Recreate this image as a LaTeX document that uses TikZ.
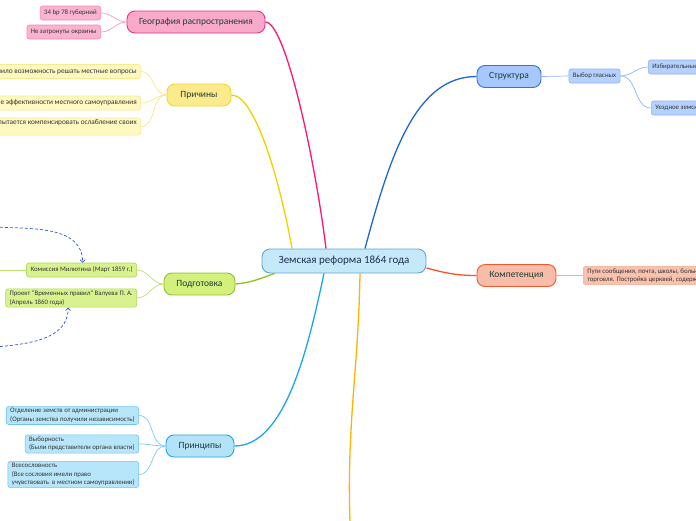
\documentclass[tikz,border=0pt]{standalone}
\usepackage{fontspec}
\setmainfont{Carlito}
\usepackage{tikz}
\usetikzlibrary{positioning}
\usetikzlibrary{arrows.meta}
\definecolor{rootfill}{HTML}{C6E9FA}
\definecolor{rootborder}{HTML}{5AA5D8}
\definecolor{roottext}{HTML}{1B2E4F}
\definecolor{topictext}{HTML}{1E3B36}
\definecolor{leaftext}{HTML}{333333}
\definecolor{structfill}{HTML}{A6C8FF}
\definecolor{structborder}{HTML}{2F74D8}
\definecolor{structline}{HTML}{1F66D1}
\definecolor{structtwig}{HTML}{8FB4F5}
\definecolor{structleaf}{HTML}{B5D1FF}
\definecolor{structleafborder}{HTML}{8DB1F0}
\definecolor{compfill}{HTML}{F9BCA8}
\definecolor{compborder}{HTML}{EE5A2E}
\definecolor{compline}{HTML}{F2552A}
\definecolor{comptwig}{HTML}{F8A88C}
\definecolor{compleaf}{HTML}{F9C2AE}
\definecolor{compleafborder}{HTML}{F5A98E}
\definecolor{geofill}{HTML}{F9AACB}
\definecolor{geoborder}{HTML}{EC2F7E}
\definecolor{geoline}{HTML}{FF1575}
\definecolor{geotwig}{HTML}{F79AC0}
\definecolor{geoleaf}{HTML}{F9B2CF}
\definecolor{geoleafborder}{HTML}{F28DB8}
\definecolor{causefill}{HTML}{FCEB8C}
\definecolor{causeborder}{HTML}{F2D42A}
\definecolor{causeline}{HTML}{F2D000}
\definecolor{causetwig}{HTML}{F6E78C}
\definecolor{causeleaf}{HTML}{FFF8C0}
\definecolor{causeleafborder}{HTML}{F7EA8F}
\definecolor{prepfill}{HTML}{D3F07D}
\definecolor{prepborder}{HTML}{8DC22A}
\definecolor{prepline}{HTML}{8CC31B}
\definecolor{preptwig}{HTML}{BEE06C}
\definecolor{prepleaf}{HTML}{D8F28F}
\definecolor{prepleafborder}{HTML}{B0D755}
\definecolor{princfill}{HTML}{B4E2F8}
\definecolor{princborder}{HTML}{1EA7E2}
\definecolor{princline}{HTML}{1AA6E8}
\definecolor{princtwig}{HTML}{7CCBF0}
\definecolor{princleaf}{HTML}{B7E5FA}
\definecolor{princleafborder}{HTML}{6FC5EE}
\definecolor{lowerline}{HTML}{FFB300}
\definecolor{refblue}{HTML}{3056E0}
\tikzset{my_map/.style={x=1pt,y=1pt}}
\tikzset{my_root/.style={draw=rootborder, fill=rootfill, line width=0.9pt, rounded corners=8pt, minimum width=164pt, minimum height=24pt, font=\fontsize{11}{13}\selectfont, text=roottext}}
\tikzset{my_topic/.style={line width=0.9pt, rounded corners=8pt, minimum height=22pt, font=\fontsize{9.5}{11}\selectfont, text=topictext}}
\tikzset{my_leaf/.style={line width=0.6pt, rounded corners=2.5pt, minimum height=14pt, inner xsep=4pt, inner ysep=2pt, align=left, font=\fontsize{6.8}{8.4}\selectfont, text=leaftext}}
\tikzset{my_link/.style={line width=1.3pt}}
\tikzset{my_twig/.style={line width=0.7pt}}
\tikzset{my_ref/.style={line width=0.7pt, refblue, dash pattern=on 3pt off 2pt, -{Straight Barb[length=2.5pt,width=5pt]}}}

\begin{document}
\begin{tikzpicture}[my_map]
    \useasboundingbox (0,0) rectangle (696,-520);
    % centre and topics
    \node[my_root] (root) at (344,-261) {Земская реформа 1864 года};
    \node[my_topic, fill=geofill, draw=geoborder, minimum width=138pt] (geo) at (196,-22) {География распространения};
    \node[my_topic, fill=causefill, draw=causeborder, minimum width=64pt] (cause) at (199,-95) {Причины};
    \node[my_topic, fill=prepfill, draw=prepborder, minimum width=71pt] (prep) at (199.5,-284) {Подготовка};
    \node[my_topic, fill=princfill, draw=princborder, minimum width=68pt] (princ) at (200,-446) {Принципы};
    \node[my_topic, fill=structfill, draw=structborder, minimum width=64pt] (struct) at (509,-76.5) {Структура};
    \node[my_topic, fill=compfill, draw=compborder, minimum width=79pt] (comp) at (516.5,-275.5) {Компетенция};

    % leaves
    \node[my_leaf, fill=geoleaf, draw=geoleafborder, anchor=east] (geo_a) at (101,-13) {34 bp 78 губерний};
    \node[my_leaf, fill=geoleaf, draw=geoleafborder, anchor=east] (geo_b) at (101,-32) {Не затронуты окраины};
    \node[my_leaf, fill=causeleaf, draw=causeleafborder, anchor=east, font=\fontsize{7.3}{8.4}\selectfont] (cause_a) at (141,-71.5) {Население получило возможность решать местные вопросы};
    \node[my_leaf, fill=causeleaf, draw=causeleafborder, anchor=east, font=\fontsize{7.3}{8.4}\selectfont] (cause_b) at (141,-103) {Повышение эффективности местного самоуправления};
    \node[my_leaf, fill=causeleaf, draw=causeleafborder, anchor=east, font=\fontsize{7.3}{8.4}\selectfont] (cause_c) at (141,-126.5) {Правительство пытается компенсировать ослабление своих\\\mbox{}};
    \node[my_leaf, fill=prepleaf, draw=prepleafborder, anchor=east] (kom) at (137,-270) {Комиссия Милютина (Март 1859 г.)};
    \node[my_leaf, fill=prepleaf, draw=prepleafborder, anchor=east] (proj) at (137,-298) {Проект "Временных правил" Валуева П. А.\\(Апрель 1860 года)};
    \node[my_leaf, fill=princleaf, draw=princleafborder, anchor=east] (princ_a) at (139,-415.5) {Отделение земств от администрации\\(Органы земства получили независимость)};
    \node[my_leaf, fill=princleaf, draw=princleafborder, anchor=east] (princ_b) at (139,-444) {Выборность\\(Были представители органа власти)};
    \node[my_leaf, fill=princleaf, draw=princleafborder, anchor=east] (princ_c) at (139,-474.5) {Всесословность\\(Все сословия имели право\\учувствовать~ в местном самоуправлении)};
    \node[my_leaf, fill=structleaf, draw=structleafborder] (vybor) at (594.5,-76) {Выбор гласных};
    \node[my_leaf, fill=structleaf, draw=structleafborder, anchor=west] (izb) at (648,-67) {Избирательные съезды};
    \node[my_leaf, fill=structleaf, draw=structleafborder, anchor=west] (uezd) at (651,-108) {Уездное земское собрание};
    \node[my_leaf, fill=compleaf, draw=compleafborder, anchor=west] (comp_a) at (583,-275.5) {Пути сообщения, почта, школы, больницы\\торговля. Постройка церквей, содержание};

    \coordinate (kom_out) at (-10,-270);
    \coordinate (lower_end) at (350,-522);
    \coordinate (ref_top) at (-5,-227);
    \coordinate (ref_bottom) at (-5,-347);

    % main links
    \path[my_link]
        ([xshift=-18pt]root.north) edge[geoline, out=97, in=0, out distance=90pt, in distance=20pt] (geo.east)
        ([xshift=-52pt]root.north) edge[causeline, out=100, in=0, out distance=60pt, in distance=25pt] (cause.east)
        ([xshift=21pt]root.north) edge[structline, out=75, in=180, out distance=100pt, in distance=60pt] (struct.west)
        ([xshift=13pt]root.south west) edge[prepline, out=200, in=5] (prep.east)
        ([xshift=-20pt]root.south) edge[princline, out=-102, in=0, out distance=80pt, in distance=50pt] (princ.east)
        ([xshift=16pt]root.south) edge[lowerline, out=-91, in=92] (lower_end)
        ([yshift=-7pt]root.east) edge[compline, out=-15, in=180] (comp.west)
    ;

    % twigs
    \path[my_twig]
        (geo.west) edge[geotwig, out=180, in=0] (geo_a.east)
        (geo.west) edge[geotwig, out=180, in=0] (geo_b.east)
        (cause.west) edge[causetwig, out=180, in=0] (cause_a.east)
        (cause.west) edge[causetwig, out=180, in=0] (cause_b.east)
        (cause.west) edge[causetwig, out=180, in=0] (cause_c.east)
        (prep.west) edge[preptwig, out=180, in=0] (kom.east)
        (prep.west) edge[preptwig, out=180, in=0] (proj.east)
        (kom.west) edge[preptwig] (kom_out)
        (princ.west) edge[princtwig, out=180, in=0] (princ_a.east)
        (princ.west) edge[princtwig, out=180, in=0] (princ_b.east)
        (princ.west) edge[princtwig, out=180, in=0] (princ_c.east)
        (struct.east) edge[structtwig] (vybor.west)
        (vybor.east) edge[structtwig, out=0, in=180] (izb.west)
        (vybor.east) edge[structtwig, out=0, in=180] (uezd.west)
        (comp.east) edge[comptwig] (comp_a.west)
    ;

    % dashed references
    \draw[my_ref] (ref_top) to[out=-3, in=90] ([xshift=1pt]kom.north);
    \draw[my_ref] (ref_bottom) to[out=5, in=-90] ([xshift=-3pt]proj.south);
\end{tikzpicture}
\end{document}
